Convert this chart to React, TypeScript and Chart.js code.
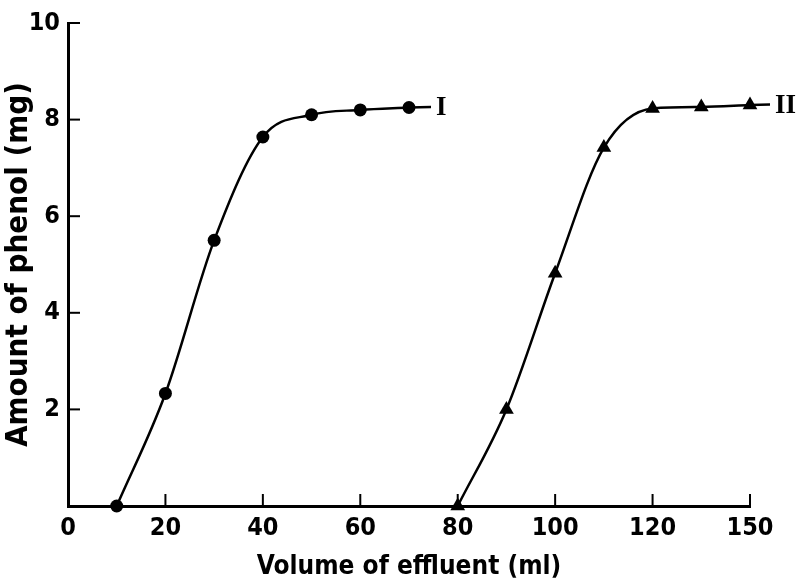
import React, { useEffect, useRef } from "react";
import { Chart, registerables } from "chart.js";

Chart.register(...registerables);

// Series I (circles)
const volumeI = [10, 20, 30, 40, 50, 60, 70];
const phenolI = [0, 2.33, 5.5, 7.64, 8.1, 8.2, 8.25];
// Series II (triangles)
const volumeII = [80, 90, 100, 110, 120, 130, 140];
const phenolII = [0, 2.0, 4.82, 7.42, 8.23, 8.26, 8.3];

const seriesNames = ["I", "II"];

// X tick positions and the labels printed in the figure (last tick printed as "150")
const xTickValues = [0, 20, 40, 60, 80, 100, 120, 140];
const xTickLabels = ["0", "20", "40", "60", "80", "100", "120", "150"];
const yTickValues = [0, 2, 4, 6, 8, 10];
const yTickLabels = ["", "2", "4", "6", "8", "10"];

const FONT = "'DejaVu Sans Condensed', 'DejaVu Sans', sans-serif";

const inwardTicks = {
  id: "inwardTicks",
  afterDatasetsDraw(chart: any) {
    const ctx = chart.ctx;
    const xs = chart.scales.x;
    const ys = chart.scales.y;
    const area = chart.chartArea;
    ctx.save();
    ctx.strokeStyle = "#000";
    ctx.lineWidth = 2;
    ctx.lineCap = "butt";
    xTickValues.forEach((v) => {
      if (v === xs.min) return;
      const px = xs.getPixelForValue(v);
      ctx.beginPath();
      ctx.moveTo(px, area.bottom);
      ctx.lineTo(px, area.bottom - 12);
      ctx.stroke();
    });
    yTickValues.forEach((v) => {
      if (v === ys.min) return;
      const py = ys.getPixelForValue(v);
      ctx.beginPath();
      ctx.moveTo(area.left, py);
      ctx.lineTo(area.left + 12, py);
      ctx.stroke();
    });
    // series end tails and labels
    const sets = [
      { xs: volumeI, ys: phenolI, tail: 22 },
      { xs: volumeII, ys: phenolII, tail: 20 },
    ];
    ctx.lineWidth = 2.5;
    ctx.fillStyle = "#000";
    ctx.font = "bold 27px 'Liberation Serif', 'DejaVu Serif', serif";
    ctx.textBaseline = "middle";
    ctx.textAlign = "left";
    sets.forEach((s, i) => {
      const n = s.xs.length - 1;
      const px = xs.getPixelForValue(s.xs[n]);
      const py = ys.getPixelForValue(s.ys[n]);
      ctx.beginPath();
      ctx.moveTo(px, py);
      ctx.lineTo(px + s.tail, py - 0.5);
      ctx.stroke();
      ctx.fillText(seriesNames[i], px + s.tail + 5, py + 1);
    });
    ctx.restore();
  },
};

export default function App() {
  const ref = useRef<HTMLCanvasElement | null>(null);
  useEffect(() => {
    if (!ref.current) return;
    const chart = new Chart(ref.current, {
      type: "line",
      data: {
        datasets: [
          {
            label: seriesNames[0],
            data: volumeI.map((x, i) => ({ x, y: phenolI[i] })),
            borderColor: "#000",
            backgroundColor: "#000",
            borderWidth: 2.5,
            pointStyle: "circle",
            pointRadius: 6.5,
            pointBorderWidth: 0,
            cubicInterpolationMode: "monotone",
            fill: false,
            clip: false,
          },
          {
            label: seriesNames[1],
            data: volumeII.map((x, i) => ({ x, y: phenolII[i] })),
            borderColor: "#000",
            backgroundColor: "#000",
            borderWidth: 2.5,
            pointStyle: "triangle",
            pointRadius: 8.5,
            pointBorderWidth: 0,
            cubicInterpolationMode: "monotone",
            fill: false,
            clip: false,
          },
        ],
      },
      options: {
        responsive: false,
        animation: false,
        devicePixelRatio: 1,
        layout: { padding: { top: 14, right: 49, left: 0, bottom: 0 } },
        plugins: { legend: { display: false }, tooltip: { enabled: false } },
        scales: {
          x: {
            type: "linear",
            min: 0,
            max: 140,
            afterBuildTicks: (s: any) => {
              s.ticks = xTickValues.map((v) => ({ value: v }));
            },
            afterFit: (s: any) => {
              s.height = 77;
            },
            grid: { display: false, drawTicks: false },
            border: { display: true, color: "#000", width: 3 },
            ticks: {
              color: "#000",
              padding: 7,
              maxRotation: 0,
              autoSkip: false,
              font: { family: FONT, size: 25, weight: "bold" },
              callback: (v: any) => {
                const k = xTickValues.indexOf(Number(v));
                return k >= 0 ? xTickLabels[k] : "";
              },
            },
            title: {
              display: true,
              text: "Volume of effluent (ml)",
              color: "#000",
              font: { family: FONT, size: 26, weight: "bold" },
              padding: { top: 0, bottom: 0 },
            },
          },
          y: {
            type: "linear",
            min: 0,
            max: 10,
            afterBuildTicks: (s: any) => {
              s.ticks = yTickValues.map((v) => ({ value: v }));
            },
            afterFit: (s: any) => {
              s.width = 68;
            },
            grid: { display: false, drawTicks: false },
            border: { display: true, color: "#000", width: 3 },
            ticks: {
              color: "#000",
              padding: 8,
              autoSkip: false,
              font: { family: FONT, size: 25, weight: "bold" },
              callback: (v: any) => {
                const k = yTickValues.indexOf(Number(v));
                return k >= 0 ? yTickLabels[k] : "";
              },
            },
            title: {
              display: true,
              text: "Amount of phenol (mg)",
              color: "#000",
              font: { family: FONT, size: 31, weight: "bold" },
              padding: { top: 0, bottom: 0 },
            },
          },
        },
      },
      plugins: [inwardTicks],
    } as any);
    return () => chart.destroy();
  }, []);
  return (
    <div style={{ position: "fixed", left: 0, top: 0, width: 799, height: 583, background: "#fff" }}>
      <canvas ref={ref} width={799} height={583} style={{ display: "block" }} />
    </div>
  );
}
